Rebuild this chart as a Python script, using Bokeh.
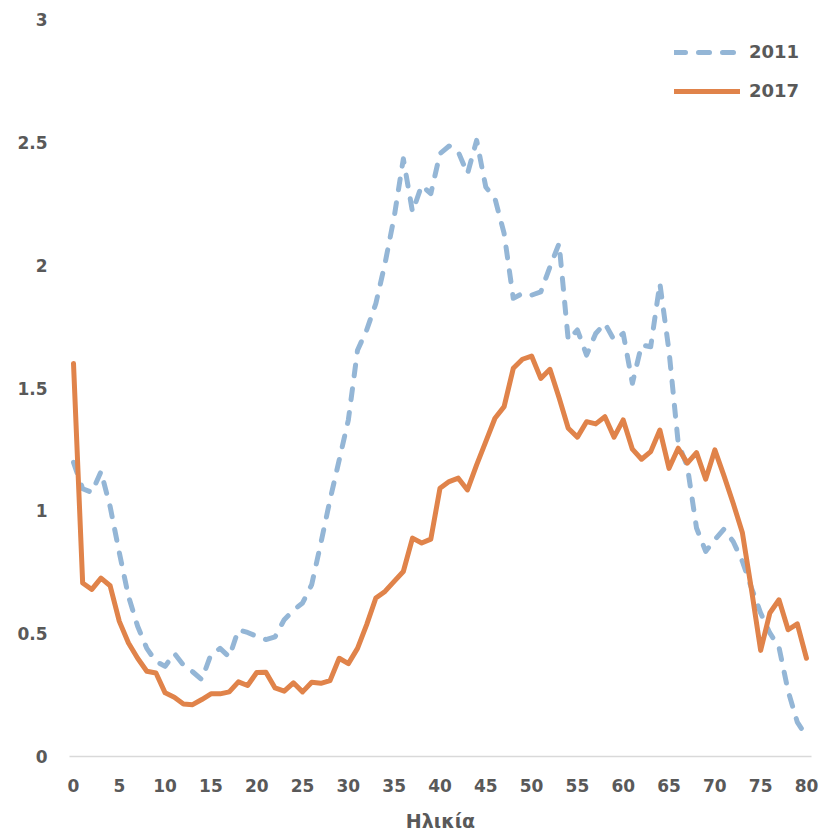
from bokeh.plotting import figure
from bokeh.models import Legend, LegendItem, FixedTicker, ColumnDataSource
from bokeh.embed import file_html
from bokeh.resources import INLINE

ages = list(range(0, 81))

y2011 = [1.197, 1.09, 1.075, 1.16, 1.017, 0.83, 0.652, 0.53, 0.44, 0.387,
         0.367, 0.42, 0.372, 0.345, 0.313, 0.415, 0.44, 0.405, 0.516, 0.505,
         0.489, 0.476, 0.487, 0.557, 0.595, 0.625, 0.70, 0.869, 1.045, 1.207,
         1.37, 1.654, 1.736, 1.844, 2.007, 2.196, 2.433, 2.217, 2.325, 2.291,
         2.454, 2.485, 2.461, 2.372, 2.508, 2.318, 2.271, 2.129, 1.865, 1.885,
         1.878, 1.891, 1.993, 2.088, 1.695, 1.736, 1.634, 1.722, 1.763, 1.695,
         1.722, 1.519, 1.675, 1.668, 1.926, 1.65, 1.276, 1.18, 0.93, 0.835,
         0.882, 0.926, 0.875, 0.795, 0.686, 0.584, 0.503, 0.445, 0.266, 0.14,
         0.083]

y2017 = [1.60, 0.706, 0.68, 0.726, 0.695, 0.55, 0.462, 0.40, 0.347, 0.34,
         0.259, 0.241, 0.214, 0.211, 0.232, 0.255, 0.255, 0.263, 0.304, 0.289,
         0.342, 0.343, 0.279, 0.266, 0.30, 0.263, 0.302, 0.298, 0.309, 0.40,
         0.378, 0.44, 0.537, 0.645, 0.672, 0.713, 0.753, 0.889, 0.869, 0.885,
         1.092, 1.119, 1.133, 1.085, 1.187, 1.282, 1.377, 1.424, 1.58, 1.617,
         1.63, 1.539, 1.576, 1.46, 1.336, 1.30, 1.363, 1.354, 1.383, 1.30,
         1.37, 1.251, 1.21, 1.241, 1.329, 1.173, 1.255, 1.194, 1.237, 1.129,
         1.248, 1.142, 1.031, 0.912, 0.679, 0.432, 0.584, 0.638, 0.516, 0.54,
         0.40]

x_ticks = [0, 5, 10, 15, 20, 25, 30, 35, 40, 45, 50, 55, 60, 65, 70, 75, 80]
y_ticks = [0, 0.5, 1, 1.5, 2, 2.5, 3]
y_tick_labels = ["0", "0.5", "1", "1.5", "2", "2.5", "3"]
series_names = ["2011", "2017"]
x_title = "Ηλικία"

FONT = "DejaVu Sans"
TXT = "#595959"
BLUE = "#94B6D6"
ORANGE = "#E0834A"

src = ColumnDataSource(dict(age=ages, a=y2011, b=y2017))

p = figure(width=834, height=834, output_backend="svg", toolbar_location=None,
           x_range=(-0.437, 80.55), y_range=(0, 3),
           min_border_left=69, min_border_right=23, min_border_top=19,
           min_border_bottom=77)

p.outline_line_color = None
p.xgrid.visible = False
p.ygrid.visible = False
p.background_fill_color = "white"
p.border_fill_color = "white"

r1 = p.line("age", "a", source=src, line_color=BLUE, line_width=5,
            line_dash="11 13", line_cap="round", line_join="round")
r2 = p.line("age", "b", source=src, line_color=ORANGE, line_width=5,
            line_cap="round", line_join="round")

xa = p.xaxis[0]
xa.ticker = FixedTicker(ticks=x_ticks)
xa.axis_line_color = "#D9D9D9"
xa.axis_line_width = 1.5
xa.major_tick_line_color = None
xa.minor_tick_line_color = None
xa.major_label_standoff = 16
xa.major_label_text_font = FONT
xa.major_label_text_font_style = "bold"
xa.major_label_text_font_size = "17px"
xa.major_label_text_color = TXT
xa.axis_label = x_title
xa.axis_label_text_font = FONT
xa.axis_label_text_font_style = "bold"
xa.axis_label_text_font_size = "19px"
xa.axis_label_text_color = TXT
xa.axis_label_standoff = 15

ya = p.yaxis[0]
ya.ticker = FixedTicker(ticks=y_ticks)
ya.major_label_overrides = {t: l for t, l in zip(y_ticks, y_tick_labels)}
ya.axis_line_color = None
ya.major_tick_line_color = None
ya.minor_tick_line_color = None
ya.major_label_standoff = 16
ya.major_label_text_font = FONT
ya.major_label_text_font_style = "bold"
ya.major_label_text_font_size = "17px"
ya.major_label_text_color = TXT

legend = Legend(items=[LegendItem(label=series_names[0], renderers=[r1]),
                       LegendItem(label=series_names[1], renderers=[r2])],
                location=(605, 655), orientation="vertical",
                glyph_width=66, glyph_height=20, label_height=20,
                label_standoff=9, spacing=18, padding=0, margin=0,
                border_line_color=None, background_fill_alpha=0,
                label_text_font=FONT, label_text_font_style="bold",
                label_text_font_size="18px", label_text_color=TXT)
p.add_layout(legend, "center")

open("out.html", "w").write(file_html(p, INLINE))
